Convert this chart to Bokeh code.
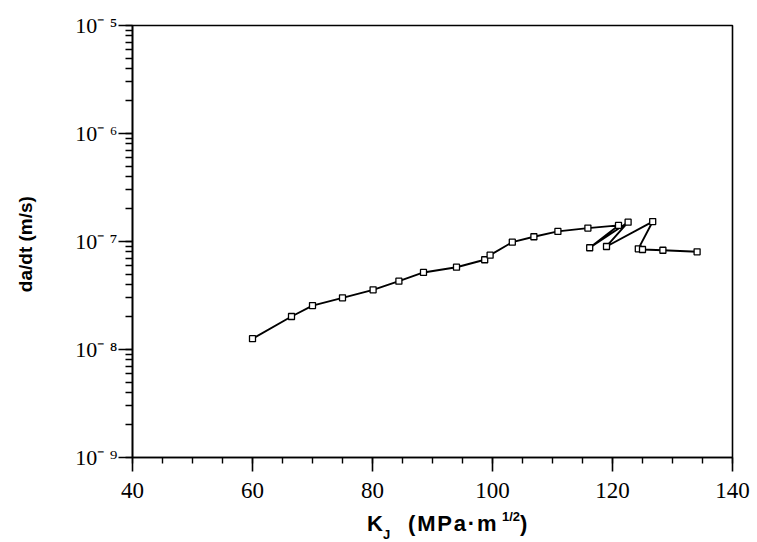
from bokeh.plotting import figure
from bokeh.models import LogTicker, SingleIntervalTicker, CustomJSTickFormatter, ColumnDataSource, Div
from bokeh.layouts import column
from bokeh.embed import file_html
from bokeh.resources import INLINE

# Data
kj = [60.0, 66.5, 70.0, 75.0, 80.1, 84.4, 88.5, 94.0, 98.7, 99.6, 103.3, 106.9,
      110.9, 115.9, 121.0, 116.2, 122.6, 119.0, 126.7, 124.3, 125.0, 128.4, 134.1]
dadt = [1.26e-8, 2.02e-8, 2.55e-8, 3.01e-8, 3.57e-8, 4.29e-8, 5.17e-8, 5.78e-8,
        6.78e-8, 7.47e-8, 9.86e-8, 1.107e-7, 1.24e-7, 1.33e-7, 1.41e-7, 8.75e-8,
        1.51e-7, 8.99e-8, 1.53e-7, 8.55e-8, 8.43e-8, 8.30e-8, 8.03e-8]
x_ticks = [40, 60, 80, 100, 120, 140]
y_range = (1e-9, 1e-5)
y_title = "da/dt  (m/s)"
x_title_parts = ["K", "J", "(MPa\u00b7m", "1/2", ")"]

src = ColumnDataSource(dict(x=kj, y=dadt))

PH = 509
p = figure(width=757, height=PH, x_range=(x_ticks[0], x_ticks[-1]), y_range=y_range,
           y_axis_type="log", output_backend="svg", toolbar_location=None,
           min_border_left=132, min_border_right=25, min_border_top=25,
           min_border_bottom=PH - 457)
p.grid.visible = False
p.outline_line_color = "black"
p.outline_line_width = 1.6
p.background_fill_color = "white"
p.border_fill_color = "white"

p.line("x", "y", source=src, line_color="black", line_width=1.9)
p.scatter("x", "y", source=src, marker="square", size=6, fill_color="white",
          line_color="black", line_width=1.3)

# X axis
xa = p.xaxis[0]
xa.ticker = SingleIntervalTicker(interval=20, num_minor_ticks=4)
xa.axis_line_width = 1.6
xa.major_tick_out = 14
xa.major_tick_in = 0
xa.minor_tick_out = 6
xa.minor_tick_in = 0
xa.major_tick_line_width = 1.6
xa.minor_tick_line_width = 1.4
xa.major_label_text_font = "Liberation Serif"
xa.major_label_text_font_size = "23px"
xa.major_label_text_color = "black"
xa.major_label_standoff = 11
xa.axis_label = None

# Y axis
ya = p.yaxis[0]
ya.ticker = LogTicker(num_minor_ticks=10)
ya.axis_line_width = 1.6
ya.major_tick_out = 14
ya.major_tick_in = 0
ya.minor_tick_out = 7
ya.minor_tick_in = 0
ya.major_tick_line_width = 1.6
ya.minor_tick_line_width = 1.4
ya.major_label_text_font = "Liberation Serif"
ya.major_label_text_font_size = "22px"
ya.major_label_text_color = "black"
ya.major_label_standoff = 1
ya.formatter = CustomJSTickFormatter(code="""
const sup = {"0":"\u2070","1":"\u00b9","2":"\u00b2","3":"\u00b3","4":"\u2074",
             "5":"\u2075","6":"\u2076","7":"\u2077","8":"\u2078","9":"\u2079"};
const e = Math.round(Math.log10(tick));
const s = String(Math.abs(e)).split("").map(c => sup[c]).join("");
return "10" + (e < 0 ? "\u207b " : "") + s;
""")
ya.axis_label = y_title
ya.axis_label_text_font = "Liberation Sans"
ya.axis_label_text_font_style = "bold"
ya.axis_label_text_font_size = "19px"
ya.axis_label_text_color = "black"
ya.axis_label_standoff = 36

# X axis title (with subscript / superscript) as HTML below the plot
# (left px, baseline px in page coords, font size px, letter spacing)
layout_specs = [(362, 527, 22, 0), (378, 534, 13, 0), (403, 527, 22, 1.8),
                (497, 516, 13, 0), (515, 527, 22, 0)]
spans = []
for t, (lx, base, fs, ls) in zip(x_title_parts, layout_specs):
    top = base - 0.8465 * fs - PH
    spans.append(
        f'<span style="position:absolute;left:{lx}px;top:{top:.1f}px;'
        f'font-size:{fs}px;line-height:{fs}px;letter-spacing:{ls}px;'
        f'white-space:nowrap;">{t}</span>')
html = ('<div style="position:relative;width:757px;height:33px;overflow:visible;'
        "font-family:'Liberation Sans';font-weight:bold;color:black;\">"
        + "".join(spans) + "</div>")
div = Div(text=html, width=757, height=542 - PH, styles={"overflow": "visible"})

layout = column(p, div, spacing=0)
open("out.html", "w").write(file_html(layout, INLINE))
